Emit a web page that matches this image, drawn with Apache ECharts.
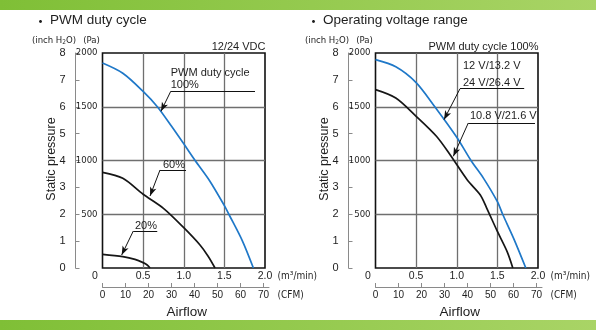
<!DOCTYPE html>
<html><head><meta charset="utf-8">
<script src="https://cdn.jsdelivr.net/npm/echarts@6/dist/echarts.min.js"></script>
<style>html,body{margin:0;padding:0;background:#fff}#c{width:596px;height:330px}</style>
</head><body><div id="c"></div>
<script>
// ---------- data ----------
const flowTicks = [0, 0.5, 1.0, 1.5, 2.0];          // m3/min
const paTicks = [0, 500, 1000, 1500, 2000];          // Pa
const inchTicks = [0, 1, 2, 3, 4, 5, 6, 7, 8];       // inch H2O
const cfmTicks = [0, 10, 20, 30, 40, 50, 60, 70];    // CFM

// Left chart: PWM duty cycle
const pwm100Flow = [0, 0.25, 0.5, 0.675, 0.85, 1.0, 1.14, 1.32, 1.5, 1.555, 1.72, 1.857];
const pwm100Pa   = [1907, 1812, 1643, 1500, 1318, 1155, 1000, 810, 580, 500, 255, 0];
const pwm60Flow  = [0, 0.25, 0.5, 0.75, 1.0, 1.2, 1.3, 1.385];
const pwm60Pa    = [890, 834, 686, 555, 375, 214, 110, 0];
const pwm20Flow  = [0, 0.25, 0.4, 0.5, 0.55, 0.585];
const pwm20Pa    = [127, 105, 80, 50, 28, 0];

// Right chart: operating voltage range
const v12Flow  = [0, 0.25, 0.5, 0.73, 1.0, 1.175, 1.33, 1.5, 1.565, 1.7, 1.85];
const v12Pa    = [1938, 1872, 1725, 1500, 1216, 1000, 834, 617, 500, 276, 0];
const v108Flow = [0, 0.25, 0.5, 0.75, 0.92, 1.13, 1.29, 1.37, 1.5, 1.62, 1.69];
const v108Pa   = [1659, 1581, 1411, 1225, 1051, 819, 679, 555, 340, 152, 0];

const CFM_PER_M3MIN = 35.315;

// annotation texts and leader lines (data units: m3/min, Pa)
const leftNotes = [
  {t: 'PWM duty cycle', x: 0.84, y: 1814, a: 'left'},
  {t: '100%', x: 0.84, y: 1700, a: 'left'},
  {t: '60%', x: 0.88, y: 958, a: 'center'},
  {t: '20%', x: 0.535, y: 393, a: 'center'}
];
const leftLeaders = [
  [[0.84, 1644], [1.877, 1644], false],
  [[0.84, 1644], [0.72, 1458], true],
  [[0.708, 912], [1.028, 912], false],
  [[0.708, 912], [0.585, 670], true],
  [[0.379, 344], [0.674, 344], false],
  [[0.379, 344], [0.236, 121], true]
];
const rightNotes = [
  {t: '12 V/13.2 V', x: 1.077, y: 1879, a: 'left'},
  {t: '24 V/26.4 V', x: 1.077, y: 1721, a: 'left'},
  {t: '10.8 V/21.6 V', x: 1.163, y: 1414, a: 'left'}
];
const rightLeaders = [
  [[1.04, 1668], [1.83, 1668], false],
  [[1.04, 1668], [0.843, 1380], true],
  [[1.142, 1349], [1.963, 1349], false],
  [[1.142, 1349], [0.958, 1039], true]
];

// ---------- layout ----------
const FONT = "'Liberation Sans', Arial, Helvetica, sans-serif";
const NARROW = "'Liberation Sans Narrow', 'DejaVu Sans Condensed', 'Liberation Sans', sans-serif";
const TXT = '#1e1e1e';
const GRIDC = '#6f6f6f';
const AXC = '#8a8a8a';
const BLUE = '#1f78c8';
const BLACK = '#161616';

const plots = [
  {left: 102.5, top: 53, width: 162.5, height: 215},
  {left: 375.5, top: 53, width: 162.5, height: 215}
];
const cfmExt = 4;
const cfmY = 287;
const cfmMax = flowTicks[flowTicks.length - 1] * CFM_PER_M3MIN * (plots[0].width + cfmExt) / plots[0].width;

function pairs(xs, ys) { return xs.map((x, i) => [x, ys[i]]); }

const grids = plots.map(p => ({left: p.left, top: p.top, width: p.width, height: p.height,
  show: true, borderColor: '#111', borderWidth: 1.6, backgroundColor: 'transparent'}))
  .concat(plots.map(p => ({left: p.left, top: cfmY - 1, width: p.width + cfmExt, height: 1, show: false})));

function flowAxis(gi) {
  return {type: 'value', gridIndex: gi, min: flowTicks[0], max: flowTicks[flowTicks.length - 1], interval: 0.5,
    axisLine: {show: false}, axisTick: {show: false},
    splitLine: {show: true, showMinLine: false, showMaxLine: false, lineStyle: {color: GRIDC, width: 1.3}},
    axisLabel: {margin: 3, fontSize: 10.5, color: TXT, fontFamily: FONT,
      formatter: v => v === 0 ? '{z|0}' : v.toFixed(1),
      rich: {z: {padding: [0, 15, 0, 0], fontSize: 10.5, color: TXT, fontFamily: FONT}}}};
}
function cfmAxis(gi) {
  return {type: 'value', gridIndex: gi, min: 0, max: cfmMax, position: 'bottom',
    axisLine: {show: true, onZero: false, lineStyle: {color: AXC, width: 1}},
    axisTick: {show: true, inside: true, length: 4, lineStyle: {color: AXC, width: 1}, customValues: cfmTicks},
    axisLabel: {margin: 3, fontSize: 10, color: TXT, fontFamily: FONT, customValues: cfmTicks},
    splitLine: {show: false}};
}
function paAxis(gi) {
  return {type: 'value', gridIndex: gi, min: paTicks[0], max: paTicks[paTicks.length - 1], interval: 500, position: 'left',
    axisLine: {show: false}, axisTick: {show: false},
    splitLine: {show: true, showMinLine: false, showMaxLine: false, lineStyle: {color: GRIDC, width: 1.3}},
    axisLabel: {margin: 5, fontSize: 9.5, fontFamily: NARROW, color: TXT, formatter: v => v === 0 ? '' : String(v)}};
}
function inchAxis(gi) {
  return {type: 'value', gridIndex: gi, min: inchTicks[0], max: inchTicks[inchTicks.length - 1], interval: 1,
    position: 'left', offset: 27,
    axisLine: {show: true, onZero: false, lineStyle: {color: AXC, width: 1}},
    axisTick: {show: true, inside: true, length: 4, lineStyle: {color: AXC, width: 1}},
    axisLabel: {margin: 10, fontSize: 11, color: TXT, fontFamily: FONT},
    splitLine: {show: false}};
}

function curve(xi, yi, xs, ys, color) {
  return {type: 'line', xAxisIndex: xi, yAxisIndex: yi, data: pairs(xs, ys), symbol: 'none', showSymbol: false,
    smooth: 0.3, silent: true, animation: false, z: 3,
    lineStyle: {color: color, width: 1.7}};
}
function leaderSeries(xi, yi, leaders) {
  return {type: 'scatter', xAxisIndex: xi, yAxisIndex: yi, symbolSize: 0, silent: true, animation: false, z: 5,
    data: [],
    markLine: {silent: true, animation: false, symbol: ['none', 'none'], label: {show: false},
      lineStyle: {color: '#111', width: 1, type: 'solid'},
      emphasis: {disabled: true},
      data: leaders.map(l => [
        {coord: l[0], symbol: 'none'},
        {coord: l[1], symbol: l[2] ? 'arrow' : 'none', symbolSize: l[2] ? [5, 9] : 0}
      ])}};
}

function txt(x, y, text, size, align, vAlign, family, extra) {
  return Object.assign({type: 'text', x: x, y: y, silent: true, z: 10,
    style: {text: text, fill: TXT, fontSize: size, fontFamily: family || FONT,
      align: align, textAlign: align, verticalAlign: vAlign, textVerticalAlign: vAlign}}, extra || {});
}

const graphics = [];
const barFill = {type: 'linear', x: 0, y: 0, x2: 1, y2: 0,
  colorStops: [{offset: 0, color: '#7fbf36'}, {offset: 1, color: '#a9d466'}]};
graphics.push({type: 'rect', shape: {x: 0, y: 0, width: 596, height: 10}, style: {fill: barFill}, silent: true});
graphics.push({type: 'rect', shape: {x: 0, y: 320, width: 596, height: 10}, style: {fill: barFill}, silent: true});

const titles = ['PWM duty cycle', 'Operating voltage range'];
const cornerNotes = ['12/24 VDC', 'PWM duty cycle 100%'];
plots.forEach((p, i) => {
  const L = p.left, R = p.left + p.width, B = p.top + p.height;
  graphics.push(txt(L - 62, 20.5, '・', 14, 'center', 'middle', "'Noto Sans CJK JP', sans-serif"));
  graphics.push(txt(L - 52.5, 20.5, titles[i], 13.5, 'left', 'middle'));
  graphics.push(txt(R + 0.5, 46.5, cornerNotes[i], 11, 'right', 'middle'));
  graphics.push({type: 'text', x: L - 48.5, y: 40.5, silent: true,
    style: {text: '{a|(inch H}{s|2}{a|O)}', align: 'center', verticalAlign: 'middle',
      rich: {a: {fontSize: 9.5, fontFamily: NARROW, fill: TXT, color: TXT},
             s: {fontSize: 6.5, fontFamily: NARROW, fill: TXT, color: TXT, padding: [4, 0, 0, 0]}}}});
  graphics.push(txt(L - 11, 40.5, '(Pa)', 9.5, 'center', 'middle', NARROW));
  graphics.push(txt(L - 50.5, 159, 'Static pressure', 12.5, 'center', 'middle', FONT, {rotation: Math.PI / 2}));
  graphics.push(txt(R + 12.5, B + 8, '(m³/min)', 10, 'left', 'middle', NARROW));
  graphics.push(txt(R + 12.5, cfmY + 8.5, '(CFM)', 10, 'left', 'middle', NARROW));
  graphics.push(txt(L + p.width / 2 + 3, 312, 'Airflow', 13.5, 'center', 'middle'));
});

const option = {
  animation: false,
  textStyle: {fontFamily: FONT},
  grid: grids,
  xAxis: [flowAxis(0), flowAxis(1), cfmAxis(2), cfmAxis(3)],
  yAxis: [paAxis(0), inchAxis(0), paAxis(1), inchAxis(1),
    {gridIndex: 2, show: false, min: 0, max: 1}, {gridIndex: 3, show: false, min: 0, max: 1}],
  series: [
    curve(0, 0, pwm100Flow, pwm100Pa, BLUE),
    curve(0, 0, pwm60Flow, pwm60Pa, BLACK),
    curve(0, 0, pwm20Flow, pwm20Pa, BLACK),
    leaderSeries(0, 0, leftLeaders),
    curve(1, 2, v12Flow, v12Pa, BLUE),
    curve(1, 2, v108Flow, v108Pa, BLACK),
    leaderSeries(1, 2, rightLeaders)
  ],
  graphic: graphics
};

const chart = echarts.init(document.getElementById('c'), null, {renderer: 'canvas'});
chart.setOption(option);

// place annotation texts through the plot scales
[[0, leftNotes], [1, rightNotes]].forEach(([gi, list]) => {
  list.forEach(n => {
    const pt = chart.convertToPixel({gridIndex: gi}, [n.x, n.y]);
    graphics.push(txt(pt[0], pt[1], n.t, 11, n.a, 'middle'));
  });
});
chart.setOption({graphic: graphics});
</script>
</body></html>
